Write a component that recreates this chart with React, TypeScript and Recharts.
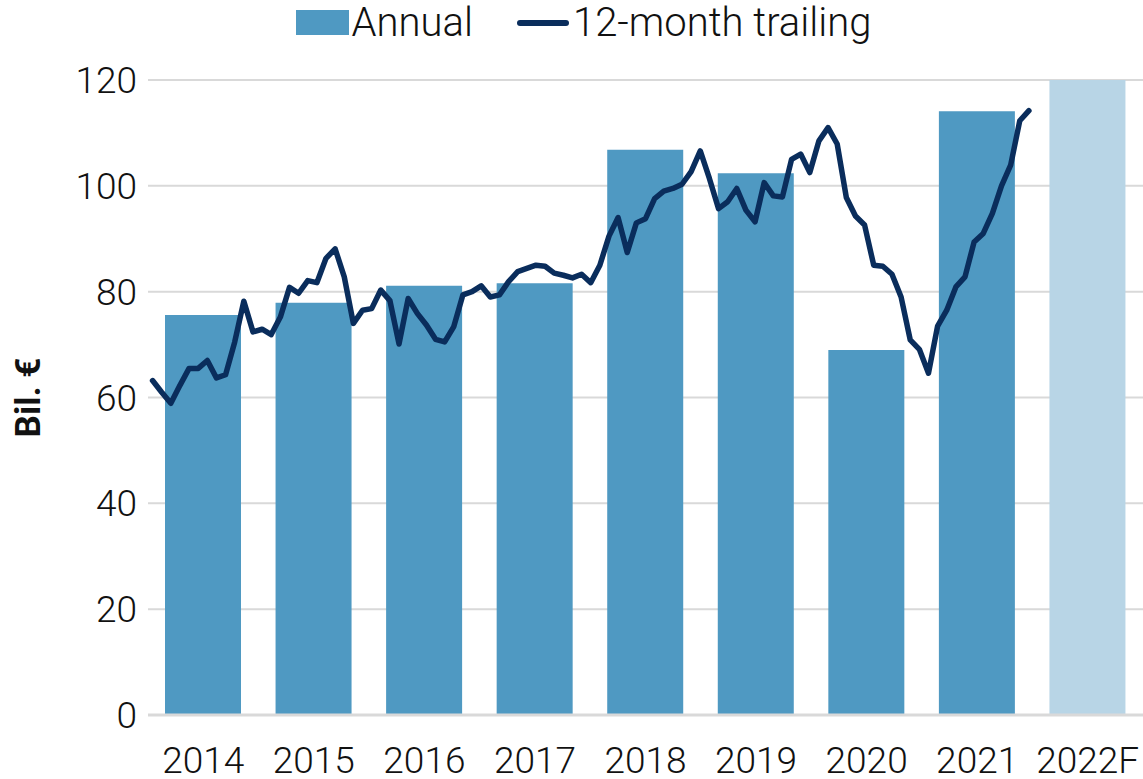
import React from 'react';
import { ComposedChart, Bar, Line, XAxis, YAxis, CartesianGrid, Legend, Cell } from 'recharts';

// Annual categories and values (Bil. €)
const years = ['2014', '2015', '2016', '2017', '2018', '2019', '2020', '2021', '2022F'];
const annual = [75.6, 77.9, 81.1, 81.6, 106.8, 102.4, 69.0, 114.1, 120.0];
const forecast = [false, false, false, false, false, false, false, false, true];

// 12-month trailing values, monthly from Jan 2014
const trailing = [
  63.2, 61.0, 58.9, 62.3, 65.5, 65.5, 67.0, 63.7, 64.3, 70.5, 78.2, 72.4,
  72.9, 71.9, 75.2, 80.8, 79.7, 82.1, 81.7, 86.3, 88.1, 82.8, 74.0, 76.5,
  76.8, 80.3, 78.3, 70.1, 78.7, 75.9, 73.7, 71.0, 70.5, 73.4, 79.4, 80.0,
  81.1, 79.0, 79.4, 81.9, 83.8, 84.4, 85.0, 84.8, 83.5, 83.1, 82.6, 83.3,
  81.7, 85.0, 90.5, 94.0, 87.4, 93.0, 93.8, 97.6, 99.0, 99.5, 100.3, 102.7,
  106.6, 101.4, 95.7, 97.0, 99.5, 95.4, 93.2, 100.6, 98.1, 97.9, 105.0, 106.0,
  102.5, 108.5, 111.0, 107.9, 97.8, 94.3, 92.6, 85.0, 84.8, 83.3, 79.0, 70.9,
  69.1, 64.6, 73.5, 76.5, 80.9, 82.8, 89.4, 91.0, 94.8, 100.0, 103.9, 112.3,
  114.2,
];
const monthSlots = 109; // Jan 2014 .. Jan 2023 on the secondary time axis

const yTicks = [0, 20, 40, 60, 80, 100, 120];

const annualData = years.map((y, i) => ({ year: y, annual: annual[i], forecast: forecast[i] }));
const lineData = trailing.map((v, i) => ({ m: i, trailing: v }));

const FONT = 'Roboto, "Noto Sans", sans-serif';
const BAR = '#4f99c2';
const BAR_F = '#b8d5e6';
const LINE = '#0a2d5c';
const TEXT = '#111111';

const LegendContent = () => (
  <div style={{ height: 80, width: '100%' }}>
    <div
      style={{
        display: 'flex',
        justifyContent: 'center',
        alignItems: 'center',
        height: 45,
        paddingLeft: 24,
        fontFamily: FONT,
        fontWeight: 300,
        fontSize: 40,
        color: TEXT,
        lineHeight: 1,
        whiteSpace: 'nowrap',
      }}
    >
      <span style={{ display: 'inline-block', width: 53, height: 25, background: BAR, marginRight: 3 }} />
      <span style={{ marginRight: 44 }}>Annual</span>
      <svg width={52} height={10} style={{ marginRight: 4 }}>
        <line x1={3} y1={5} x2={49} y2={5} stroke={LINE} strokeWidth={6} strokeLinecap="round" />
      </svg>
      <span>12-month trailing</span>
    </div>
  </div>
);

const YLabel = (props: any) => {
  const vb = props.viewBox || { x: 0, y: 80, width: 148, height: 635 };
  const cx = vb.x + 28;
  const cy = vb.y + vb.height / 2;
  return (
    <text
      x={cx}
      y={cy}
      transform={`rotate(-90 ${cx} ${cy})`}
      textAnchor="middle"
      dominantBaseline="central"
      fontFamily={FONT}
      fontWeight={700}
      fontSize={35}
      fill={TEXT}
    >
      Bil. €
    </text>
  );
};

export default function App() {
  return (
    <div style={{ position: 'absolute', left: 0, top: 0, width: 1143, height: 779, background: '#fff' }}>
      <ComposedChart
        width={1143}
        height={779}
        data={annualData}
        margin={{ top: 0, right: 0, bottom: 0, left: 0 }}
      >
        <CartesianGrid xAxisId="cat" vertical={false} stroke="#d9d9d9" strokeWidth={2} />
        <XAxis
          xAxisId="cat"
          dataKey="year"
          type="category"
          height={64}
          tickLine={false}
          tickSize={0}
          tickMargin={32}
          axisLine={{ stroke: '#d9d9d9', strokeWidth: 3 }}
          tick={{ fontFamily: FONT, fontWeight: 300, fontSize: 37, fill: TEXT }}
          interval={0}
        />
        <XAxis
          xAxisId="month"
          dataKey="m"
          type="number"
          domain={[-0.5, monthSlots - 0.5]}
          allowDataOverflow
          hide
        />
        <YAxis
          domain={[0, 120]}
          ticks={yTicks}
          width={148}
          axisLine={false}
          tickLine={false}
          tickSize={0}
          tickMargin={11}
          tick={{ fontFamily: FONT, fontWeight: 300, fontSize: 37, fill: TEXT }}
          label={<YLabel />}
        />
        <Legend verticalAlign="top" align="center" content={<LegendContent />} />
        <Bar xAxisId="cat" dataKey="annual" name="Annual" barSize={76} isAnimationActive={false}>
          {annualData.map((d, i) => (
            <Cell key={i} fill={d.forecast ? BAR_F : BAR} />
          ))}
        </Bar>
        <Line
          xAxisId="month"
          data={lineData}
          dataKey="trailing"
          name="12-month trailing"
          type="linear"
          stroke={LINE}
          strokeWidth={5.5}
          strokeLinejoin="round"
          strokeLinecap="round"
          dot={false}
          activeDot={false}
          isAnimationActive={false}
        />
      </ComposedChart>
    </div>
  );
}
